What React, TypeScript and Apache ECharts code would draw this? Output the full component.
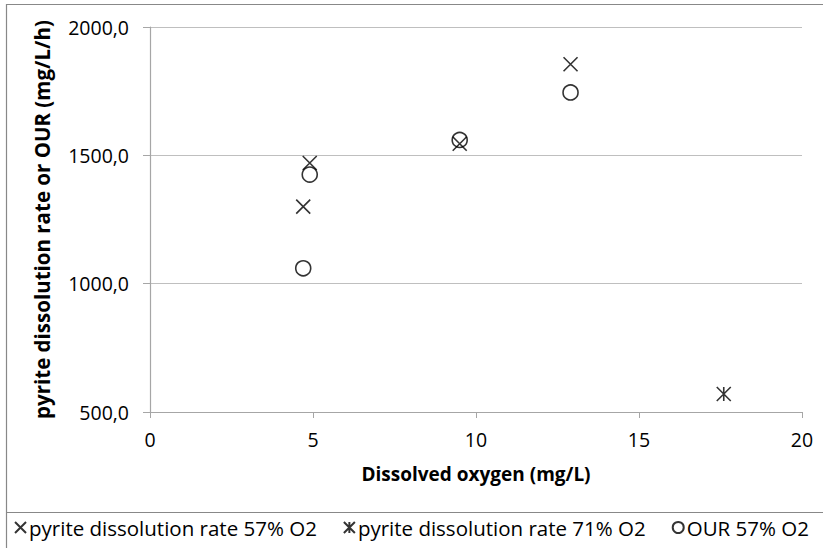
import React, { useEffect, useRef } from "react";
import * as echarts from "echarts";

const seriesNames = [
  "pyrite dissolution rate 57% O2",
  "pyrite dissolution rate 71% O2",
  "OUR 57% O2",
];
const pyrite57: [number, number][] = [
  [4.7, 1300],
  [4.9, 1470],
  [9.5, 1545],
  [12.9, 1855],
];
const pyrite71: [number, number][] = [[17.6, 570]];
const our57: [number, number][] = [
  [4.7, 1060],
  [4.9, 1425],
  [9.5, 1560],
  [12.9, 1745],
];

const CROSS = "path://M0,0L10,10M10,0L0,10";
const STAR = "path://M0,0L10,10M10,0L0,10M5,0L5,10";

const FONT = "Open Sans";

export default function App() {
  const ref = useRef<HTMLDivElement>(null);
  useEffect(() => {
    if (!ref.current) return;
    const chart = echarts.init(ref.current, undefined, { renderer: "svg" });
    const markerStyle = {
      color: "transparent",
      borderColor: "#000",
      borderWidth: 1.6,
    };
    chart.setOption({
      animation: false,
      backgroundColor: "#fff",
      textStyle: { fontFamily: FONT },
      graphic: [
        {
          type: "rect",
          shape: { x: 6.5, y: 4.5, width: 840, height: 560 },
          style: { fill: "none", stroke: "#888", lineWidth: 1.2 },
          silent: true,
        },
        {
          type: "line",
          shape: { x1: 6, y1: 512.5, x2: 830, y2: 512.5 },
          style: { stroke: "#888", lineWidth: 1.2 },
          silent: true,
        },
      ],
      grid: { left: 150, right: 21, top: 27, bottom: 136 },
      xAxis: {
        type: "value",
        min: 0,
        max: 20,
        interval: 5,
        name: "Dissolved oxygen (mg/L)",
        nameLocation: "middle",
        nameGap: 52,
        nameTextStyle: {
          fontFamily: FONT,
          fontWeight: "bold",
          fontSize: 19,
          color: "#000",
        },
        axisLine: { show: true, lineStyle: { color: "#a6a6a6", width: 1.2 } },
        axisTick: { show: true, length: 6, lineStyle: { color: "#a6a6a6" } },
        axisLabel: {
          fontFamily: FONT,
          fontSize: 19.5,
          color: "#000",
          margin: 17,
        },
        splitLine: { show: false },
      },
      yAxis: {
        type: "value",
        min: 500,
        max: 2000,
        interval: 500,
        name: "pyrite dissolution rate or OUR (mg/L/h)",
        nameLocation: "middle",
        nameGap: 98,
        nameTextStyle: {
          fontFamily: FONT,
          fontWeight: "bold",
          fontSize: 20.5,
          color: "#000",
        },
        axisLine: { show: true, lineStyle: { color: "#a6a6a6", width: 1.2 } },
        axisTick: { show: true, length: 7, lineStyle: { color: "#a6a6a6" } },
        axisLabel: {
          fontFamily: FONT,
          fontSize: 19.5,
          color: "#000",
          margin: 21,
          formatter: (v: number) => v.toFixed(1).replace(".", ","),
        },
        splitLine: { show: true, lineStyle: { color: "#bfbfbf", width: 1.2 } },
      },
      legend: {
        left: "center",
        top: 512,
        itemWidth: 11,
        itemHeight: 11,
        itemGap: 26,
        textStyle: { fontFamily: FONT, fontSize: 20.5, color: "#000", padding: [0, 0, 0, -2] },
        data: seriesNames,
      },
      series: [
        {
          name: seriesNames[0],
          type: "scatter",
          symbol: CROSS,
          symbolSize: 14,
          itemStyle: markerStyle,
          data: pyrite57,
        },
        {
          name: seriesNames[1],
          type: "scatter",
          symbol: STAR,
          symbolSize: 14,
          itemStyle: markerStyle,
          data: pyrite71,
        },
        {
          name: seriesNames[2],
          type: "scatter",
          symbol: "circle",
          symbolSize: 15,
          itemStyle: markerStyle,
          data: our57,
        },
      ],
    });
    return () => chart.dispose();
  }, []);
  return <div ref={ref} style={{ width: 823, height: 548, position: "absolute", left: 0, top: 0 }} />;
}
